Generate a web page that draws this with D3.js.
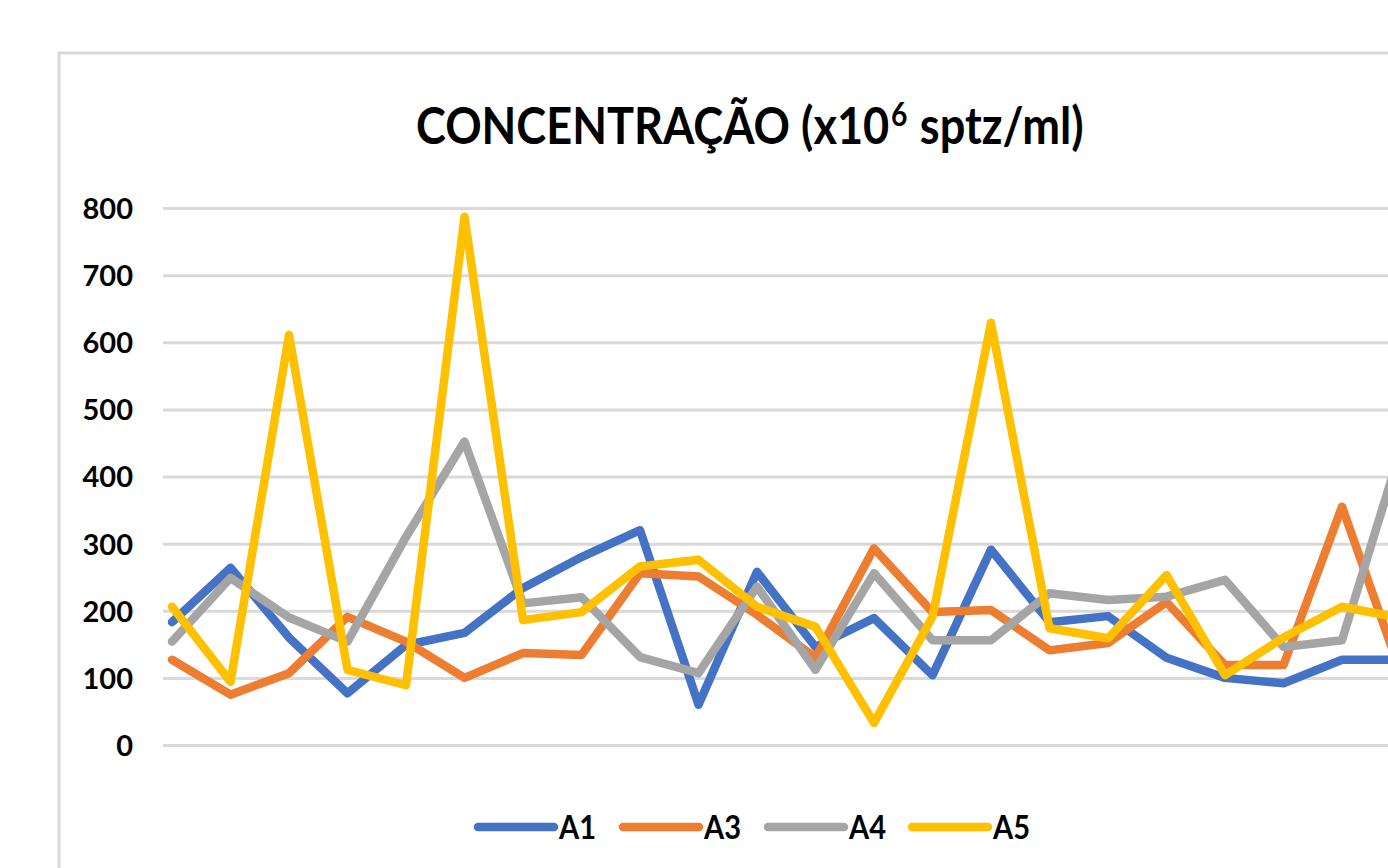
<!DOCTYPE html>
<html>
<head>
<meta charset="utf-8">
<script src="https://cdn.jsdelivr.net/npm/d3@7"></script>
<style>
  html, body { margin: 0; padding: 0; background: #fff; overflow: hidden; }
  svg { display: block; }
  text { font-family: Lato, "Open Sans", sans-serif; font-weight: bold; fill: #000; }
</style>
</head>
<body>
<div id="chart"></div>
<script>
// ---- data ----
const categories = ["1","2","3","4","5","6","7","8","9","10","11","12","13","14","15","16","17","18","19","20","21","22"];
const seriesNames = ["A1", "A3", "A4", "A5"];
const A1 = [183, 264, 160, 77, 149, 167, 234, 280, 320, 60, 258, 146, 189, 104, 291, 183, 192, 130, 100, 92, 127, 127];
const A3 = [127, 75, 107, 191, 154, 100, 137, 134, 256, 251, 194, 130, 293, 198, 201, 141, 152, 213, 119, 119, 355, 108];
const A4 = [154, 249, 190, 154, 310, 452, 211, 220, 131, 107, 236, 112, 256, 156, 156, 226, 216, 221, 246, 146, 156, 440];
const A5 = [206, 94, 611, 112, 89, 787, 186, 198, 266, 276, 206, 176, 33, 191, 629, 174, 159, 253, 104, 160, 206, 189];
const yTicks = [0, 100, 200, 300, 400, 500, 600, 700, 800];
const colors = ["#4472C4", "#ED7D31", "#A5A5A5", "#FFC000"];
const titleMain = "CONCENTRAÇÃO (x10";
const titleSup = "6";
const titleEnd = "sptz/ml)";

const seriesValues = [A1, A3, A4, A5];
const series = seriesNames.map((n, i) => ({ name: n, values: seriesValues[i], color: colors[i] }));

// ---- layout ----
const W = 1430, H = 868;
const plot = { left: 163, right: 1430, top: 208, bottom: 745 };

const svg = d3.select("#chart").append("svg").attr("width", W).attr("height", H);

// chart frame
svg.append("rect")
  .attr("x", 59).attr("y", 53).attr("width", 1500).attr("height", 900)
  .attr("fill", "#fff").attr("stroke", "#d9d9d9").attr("stroke-width", 3);

const x = d3.scalePoint().domain(categories).range([172, 172 + 58.5 * (categories.length - 1)]);
const y = d3.scaleLinear().domain([0, 800]).range([plot.bottom, plot.top]);

// gridlines + y labels via axis
const yAxis = d3.axisLeft(y).tickValues(yTicks).tickSize(-(plot.right - plot.left)).tickPadding(30);
const gy = svg.append("g").attr("transform", `translate(${plot.left},0)`).call(yAxis);
gy.select(".domain").remove();
gy.selectAll(".tick line").attr("stroke", "#d9d9d9").attr("stroke-width", 3);
gy.selectAll(".tick text")
  .attr("font-size", 29).attr("font-family", "Lato, sans-serif").attr("font-weight", "bold")
  .attr("fill", "#000").attr("dy", "0.36em");

// lines
const line = d3.line().x((d, i) => x(categories[i])).y(d => y(d));
svg.append("g").selectAll("path").data(series).join("path")
  .attr("d", d => line(d.values))
  .attr("fill", "none")
  .attr("stroke", d => d.color)
  .attr("stroke-width", 8.5)
  .attr("stroke-linejoin", "round")
  .attr("stroke-linecap", "round");

// title (condensed horizontally, Calibri-like proportions)
const tg = svg.append("g").attr("transform", "translate(416,144) scale(0.885,1)");
const t1 = tg.append("text").attr("x", 0).attr("y", 0).attr("font-size", 51).text(titleMain);
const w1 = t1.node().getComputedTextLength();
const t2 = tg.append("text").attr("x", w1 + 2).attr("y", -18).attr("font-size", 32).text(titleSup);
const w2 = t2.node().getComputedTextLength();
tg.append("text").attr("x", w1 + 2 + w2 + 14).attr("y", 0).attr("font-size", 51).text(titleEnd);

// legend
const legendX = [478, 623, 768, 912];
const lg = svg.append("g").selectAll("g").data(series).join("g")
  .attr("transform", (d, i) => `translate(${legendX[i]},827)`);
lg.append("line").attr("x1", 0).attr("x2", 76).attr("y1", 0).attr("y2", 0)
  .attr("stroke", d => d.color).attr("stroke-width", 8.5).attr("stroke-linecap", "round");
lg.append("text").attr("x", 81).attr("y", 0).attr("dy", "0.36em")
  .attr("font-size", 33).attr("textLength", 37).attr("lengthAdjust", "spacingAndGlyphs")
  .text(d => d.name);
</script>
</body>
</html>
